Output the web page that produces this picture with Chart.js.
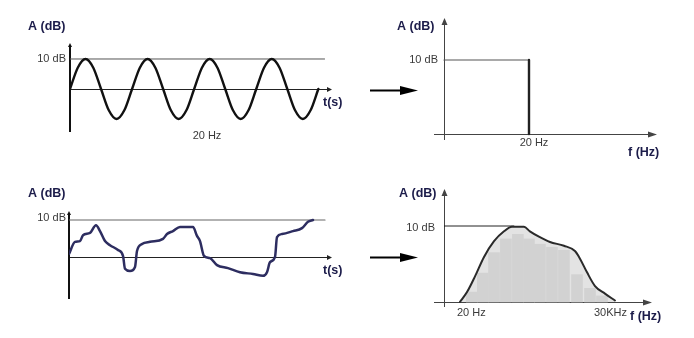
<!DOCTYPE html>
<html>
<head>
<meta charset="utf-8">
<script src="https://cdn.jsdelivr.net/npm/chart.js@4/dist/chart.umd.min.js"></script>
<style>
html,body{margin:0;padding:0;background:#fff;}
#wrap{position:relative;width:694px;height:338px;overflow:hidden;}
#wrap canvas{position:absolute;left:0;top:0;}
</style>
</head>
<body>
<div id="wrap">
<canvas id="c1" width="694" height="338"></canvas>
<canvas id="c2" width="694" height="338"></canvas>
<canvas id="c3" width="694" height="338"></canvas>
<canvas id="c4" width="694" height="338"></canvas>
</div>
<script>
// ---------- DATA ----------
// Panel 1: pure 20 Hz tone in time (ms) vs level (dB)
const sineTimeMs = [0,6.25,12.5,18.75,25,31.25,37.5,43.75,50,56.25,62.5,68.75,75,81.25,87.5,93.75,100,106.25,112.5,118.75,125,131.25,137.5,143.75,150,156.25,162.5,168.75,175,181.25,187.5,193.75,200];
const sineLevelDb = [0,7.1,10,7.1,0,-7.1,-10,-7.1, 0,7.1,10,7.1,0,-7.1,-10,-7.1, 0,7.1,10,7.1,0,-7.1,-10,-7.1, 0,7.1,10,7.1,0,-7.1,-10,-7.1, 0];
// Panel 2: spectrum of the tone
const toneFreqHz = [0, 20, 20];
const toneLevelDb = [10, 10, 0];
// Panel 3: complex noise in time
const noiseTime = [0,6,11,14,21,27,31,36,41,49,54,56,61,66,68,73,81,94,98,104,111,124,128,131,135,141,148,159,171,184,194,198,201,206,208,213,224,233,239,244];
const noiseLevelDb = [0.8,4.1,4.3,5.9,6.5,8.6,7.0,4.3,3.2,1.9,0.3,-3.2,-3.8,-2.7,1.6,3.5,4.1,4.9,6.2,7.0,8.1,8.1,5.7,4.3,0.3,-0.3,-2.2,-3.0,-4.1,-4.6,-5.1,-4.1,-1.4,0,5.4,6.2,7.0,7.8,9.5,10];
// Panel 4: broadband spectrum (log frequency)
const spectrumFreqHz = [20,28,41,62,100,160,233,410,543,831,1400,2700,4540,5760,8020,11700,18700,30000];
const spectrumLevelDb = [0,1.3,3.4,5.9,8.0,9.3,9.9,9.9,9.3,8.6,7.9,7.4,6.7,5.7,3.9,2.1,1.1,0.2];
const bandFreqHz = [35,59,100,175,308,519,871,1535,2704,5000,9230,16260];
const bandLevelDb = [1.3,3.8,6.5,8.3,8.9,8.3,7.6,7.2,6.8,3.6,1.8,0.8];
const refLevelDb = 10;
// Tick / axis labels
const levelLabel = "A (dB)";
const refLabel = "10 dB";
const timeLabel = "t(s)";
const freqLabel = "f (Hz)";
const toneLabel = "20 Hz";
const lowFreqLabel = "20 Hz";
const highFreqLabel = "30KHz";

// ---------- HELPERS ----------
const pts = (xs, ys) => xs.map((x, i) => ({x, y: ys[i]}));
const NAVY = '#1c1c4a';
const GREY_TXT = '#3a3a3a';

function head(ctx, x, y, dir, len, half) {
  ctx.beginPath();
  if (dir === 'right') { ctx.moveTo(x, y); ctx.lineTo(x - len, y - half); ctx.lineTo(x - len, y + half); }
  else { ctx.moveTo(x, y); ctx.lineTo(x - half, y + len); ctx.lineTo(x + half, y + len); }
  ctx.closePath(); ctx.fill();
}

function deco(cfg) {
  return {
    id: 'deco_' + cfg.name,
    beforeDatasetsDraw(chart) {
      const {ctx, chartArea: a, scales: {x, y}} = chart;
      const ax = Math.round(x.getPixelForValue(cfg.yAxisAt));
      const ay = Math.round(y.getPixelForValue(0)) + 0.5;
      ctx.save();
      ctx.strokeStyle = cfg.xAxis.color; ctx.fillStyle = cfg.xAxis.color; ctx.lineWidth = cfg.xAxis.width;
      ctx.beginPath(); ctx.moveTo(cfg.xAxis.fromLeft ? a.left : ax, ay); ctx.lineTo(a.right - cfg.xAxis.len + 1, ay); ctx.stroke();
      head(ctx, a.right, ay, 'right', cfg.xAxis.len, cfg.xAxis.half);
      const yx = ax + (cfg.yAxis.width % 2 ? 0.5 : 0);
      ctx.strokeStyle = cfg.yAxis.color; ctx.fillStyle = cfg.yAxis.color; ctx.lineWidth = cfg.yAxis.width;
      ctx.beginPath(); ctx.moveTo(yx, a.bottom); ctx.lineTo(yx, a.top + cfg.yAxis.len - 1); ctx.stroke();
      head(ctx, yx, a.top, 'up', cfg.yAxis.len, cfg.yAxis.half);
      if (cfg.between) {
        const by = Math.round(y.getPixelForValue(cfg.between.level)) + 0.5;
        ctx.strokeStyle = '#000'; ctx.fillStyle = '#000'; ctx.lineWidth = 2;
        ctx.beginPath(); ctx.moveTo(a.left - 64, by); ctx.lineTo(a.left - 30, by); ctx.stroke();
        head(ctx, a.left - 16, by, 'right', 18, 4.5);
      }
      ctx.restore();
    },
    afterDraw(chart) {
      const {ctx} = chart;
      ctx.save();
      ctx.textBaseline = 'middle';
      cfg.texts.forEach(t => {
        ctx.font = t.font; ctx.fillStyle = t.color; ctx.textAlign = t.align;
        ctx.fillText(t.text, t.x, t.y);
      });
      ctx.restore();
    }
  };
}

const BOLD = 'bold 12.5px "Liberation Sans", Arial, sans-serif';
const REG = '11px "Liberation Sans", Arial, sans-serif';

function makeChart(id, pad, xScale, yScale, datasets, plug) {
  return new Chart(document.getElementById(id), {
    type: 'line',
    data: {datasets},
    options: {
      responsive: false, animation: false, events: [],
      layout: {padding: pad},
      plugins: {legend: {display: false}, tooltip: {enabled: false}, filler: {drawTime: 'beforeDatasetsDraw'}},
      scales: {
        x: Object.assign({display: false, bounds: 'data', offset: false}, xScale),
        y: Object.assign({display: false, bounds: 'data'}, yScale)
      },
      elements: {point: {radius: 0}, line: {borderCapStyle: 'round', borderJoinStyle: 'round'}}
    },
    plugins: [plug]
  });
}

// ---------- PANEL 1 ----------
makeChart('c1', {left: 70, right: 694 - 332, top: 43, bottom: 338 - 132},
  {type: 'linear', min: 0, max: 211},
  {type: 'linear', min: -14.33, max: 15.33},
  [
    {data: pts([0, 205], [refLevelDb, refLevelDb]), borderColor: '#555', borderWidth: 1, order: 1},
    {data: pts(sineTimeMs, sineLevelDb), borderColor: '#111', borderWidth: 2.4, cubicInterpolationMode: 'monotone', order: 0}
  ],
  deco({name: 'p1', yAxisAt: 0,
    xAxis: {color: '#222', width: 1, len: 5, half: 2.5, fromLeft: false},
    yAxis: {color: '#111', width: 2, len: 4, half: 2},
    texts: [
      {text: levelLabel, x: 28, y: 27, align: 'left', font: BOLD, color: NAVY},
      {text: refLabel, x: 66, y: 59, align: 'right', font: REG, color: GREY_TXT},
      {text: timeLabel, x: 323, y: 103, align: 'left', font: BOLD, color: NAVY},
      {text: toneLabel, x: 207, y: 136, align: 'center', font: REG, color: GREY_TXT}
    ]}));

// ---------- PANEL 2 ----------
makeChart('c2', {left: 434, right: 694 - 657, top: 18, bottom: 338 - 140},
  {type: 'linear', min: -2.353, max: 50.12},
  {type: 'linear', min: -0.81, max: 15.68},
  [
    {data: pts(toneFreqHz, toneLevelDb), borderColor: '#222', borderWidth: 2,
     segment: {borderWidth: c => c.p0DataIndex === 0 ? 1.2 : 2.4, borderColor: c => c.p0DataIndex === 0 ? '#555' : '#222'}}
  ],
  deco({name: 'p2', yAxisAt: 0, between: {level: 5.95},
    xAxis: {color: '#444', width: 1, len: 9, half: 3, fromLeft: true},
    yAxis: {color: '#444', width: 1, len: 7, half: 3},
    texts: [
      {text: levelLabel, x: 397, y: 27, align: 'left', font: BOLD, color: NAVY},
      {text: refLabel, x: 438, y: 60, align: 'right', font: REG, color: GREY_TXT},
      {text: toneLabel, x: 534, y: 143, align: 'center', font: REG, color: GREY_TXT},
      {text: freqLabel, x: 628, y: 153, align: 'left', font: BOLD, color: NAVY}
    ]}));

// ---------- PANEL 3 ----------
makeChart('c3', {left: 69, right: 694 - 332, top: 211, bottom: 338 - 299},
  {type: 'linear', min: 0, max: 263},
  {type: 'linear', min: -11.35, max: 12.43},
  [
    {data: pts([0, 256], [refLevelDb, refLevelDb]), borderColor: '#666', borderWidth: 1.2, order: 1},
    {data: pts(noiseTime, noiseLevelDb), borderColor: '#2d2d60', borderWidth: 2.5, cubicInterpolationMode: 'monotone', order: 0}
  ],
  deco({name: 'p3', yAxisAt: 0,
    xAxis: {color: '#222', width: 1, len: 5, half: 2.5, fromLeft: false},
    yAxis: {color: '#111', width: 2, len: 4, half: 2},
    texts: [
      {text: levelLabel, x: 28, y: 194, align: 'left', font: BOLD, color: NAVY},
      {text: refLabel, x: 66, y: 218, align: 'right', font: REG, color: GREY_TXT},
      {text: timeLabel, x: 323, y: 271, align: 'left', font: BOLD, color: NAVY}
    ]}));

// ---------- PANEL 4 ----------
const axisFreqHz = 9.46;
makeChart('c4', {left: 434, right: 694 - 652, top: 189, bottom: 338 - 307},
  {type: 'logarithmic', min: 5.9, max: 171800},
  {type: 'linear', min: -0.66, max: 14.87},
  [
    {data: pts([axisFreqHz, 255], [refLevelDb, refLevelDb]), borderColor: '#222', borderWidth: 1, order: 2},
    {type: 'bar', data: pts(bandFreqHz, bandLevelDb), backgroundColor: '#d2d2d2', barThickness: 11, borderWidth: 0, order: 1},
    {data: pts(spectrumFreqHz, spectrumLevelDb), borderColor: '#2a2a2a', borderWidth: 2, backgroundColor: '#e3e3e3', fill: 'origin', cubicInterpolationMode: 'monotone', order: 0}
  ],
  deco({name: 'p4', yAxisAt: axisFreqHz, between: {level: 5.9},
    xAxis: {color: '#444', width: 1, len: 9, half: 3, fromLeft: true},
    yAxis: {color: '#444', width: 1, len: 7, half: 3},
    texts: [
      {text: levelLabel, x: 399, y: 194, align: 'left', font: BOLD, color: NAVY},
      {text: refLabel, x: 435, y: 228, align: 'right', font: REG, color: GREY_TXT},
      {text: lowFreqLabel, x: 457, y: 313, align: 'left', font: REG, color: GREY_TXT},
      {text: highFreqLabel, x: 594, y: 313, align: 'left', font: REG, color: GREY_TXT},
      {text: freqLabel, x: 630, y: 317, align: 'left', font: BOLD, color: NAVY}
    ]}));
</script>
</body>
</html>
